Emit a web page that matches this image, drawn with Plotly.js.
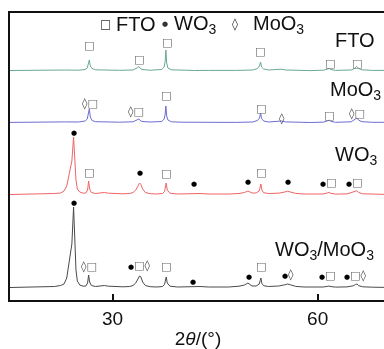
<!DOCTYPE html>
<html>
<head>
<meta charset="utf-8">
<script src="https://cdn.plot.ly/plotly-3.0.1.min.js"></script>
<style>
html,body{margin:0;padding:0;background:#fff;overflow:hidden;}
#chart{width:386px;height:349px;will-change:transform;}
</style>
</head>
<body>
<div id="chart"></div>
<script>
// 2theta key points and intensities (a.u., relative to each pattern's own baseline)
const ftoX = [15,17,19,21,23,25,26.0,26.3,26.45,26.6,26.75,27.0,27.5,29,31,33.0,33.5,33.7,33.85,34.0,34.3,35.5,37.2,37.55,37.7,37.8,37.92,38.1,38.6,40,42,44,46,48,50.5,51.2,51.5,51.65,51.8,52.1,52.8,54.0,54.7,55.3,57,59,60.9,61.5,61.7,61.95,62.6,64.9,65.4,65.6,65.75,66.0,66.5,68,70];
const ftoY = [0.5,0.8,0.6,0.9,1.0,0.8,1.5,3,6,11,5,2.5,1.2,0.8,0.7,1,2.5,3.5,4.5,3,1.5,0.8,1.5,4,10,21,8,3,1.2,0.7,0.5,0.6,0.4,0.6,1,2.5,5,9,4,2,1,1.2,1.8,1,0.5,0.4,0.8,1.8,2.5,1.5,0.6,1,2.5,4,4.5,2.5,1.2,0.6,0.6];

const mooX = ftoX;
const mooY = [0.6,0.9,0.7,1.0,1.1,1.0,2,4,8,14,6,2.5,1.3,1.0,0.8,1.2,2.5,3.5,4,2.8,1.5,1.0,1.5,4,9,17,7,3,1.2,0.8,0.6,0.7,0.5,0.6,1,2.5,5,10,4.5,2,1,1.2,2,1.1,0.6,0.5,0.9,2,2.8,1.6,0.7,1.2,3,4.5,5,2.8,1.3,0.7,0.7];

const woX = [15,17,19,20.5,21.5,22.4,22.9,23.3,23.6,23.85,24.05,24.3,24.5,24.65,24.85,25.2,25.7,26.1,26.35,26.5,26.65,26.9,27.5,28.3,28.8,29.4,30.5,31.5,32.5,33.0,33.4,33.7,33.95,34.15,34.4,34.8,35.5,36.5,37.3,37.6,37.75,37.85,38.0,38.4,39.5,40.8,41.8,42.8,44,45.5,47,48.5,49.3,49.8,50.0,50.4,51.0,51.45,51.6,51.7,51.85,52.1,52.8,54.3,55.2,55.6,56.0,56.8,58,59.5,60.8,61.4,61.65,61.95,62.6,64.3,65.2,65.55,65.75,66.0,66.6,68,70];
const woY = [0.5,0.7,0.8,1.2,1.5,2,4,9,20,27,34,58,36,15,6,3,1.8,2,5,14,6,2.5,1.5,2,2.5,1.8,1.2,1.2,1.5,2.5,5,8.5,12,10.5,6,2.5,1.3,1,1.5,3.5,8,12,5,1.8,1,1.3,2,1.5,1,0.9,1,1.5,2.5,4,3.5,2,2,4,8,11,5,2.3,1.5,1.8,3,3.8,3,1.6,1,0.8,1,2,2.6,1.6,0.9,1.1,2.5,3.8,4.2,2.5,1.2,0.8,0.6];

const mixX = woX;
const mixY = [0.5,0.7,0.8,1.2,1.5,2.5,4,10,25,38,44,81,45,18,7,3,1.8,2,5,13,6,2.5,1.5,2,2.5,1.8,1.2,1.2,1.5,2.5,5,9,12,11,6,2.5,1.3,1,1.5,3.5,7.5,11,5,1.8,1,1.3,2,1.5,1,0.9,1,1.8,3,5,4,2,2,4,7.5,10,4.5,2.3,1.5,2,3.2,4,3.2,1.6,1,0.8,1,1.6,2,1.4,0.9,1.1,2.2,3.5,4,2.3,1.2,0.8,0.6];

const sampleNames = ["FTO", "MoO<sub>3</sub>", "WO<sub>3</sub>", "WO<sub>3</sub>/MoO<sub>3</sub>"];
const xTicks = [30, 60];

// phase marks: [2theta, symbols, height above baseline]
const ftoMarks = [[26.55,"□",26],[33.87,"□",12],[37.9,"□",29],[51.5,"□",20],[61.8,"□",8],[65.7,"□",8]];
const mooMarks = [[26.63,"◊□",20],[33.47,"◊□",12],[37.76,"□",28],[51.66,"□",15],[54.73,"◊",5],[61.6,"□",8],[65.7,"◊□",10]];
const woMarks = [[24.29,"•",62],[26.49,"□",23],[33.95,"•",22],[37.76,"□",22],[41.85,"•",11],[49.76,"•",13],[51.66,"□",23],[55.6,"•",13],[61.6,"•□",13],[65.4,"•□",13]];
const mixMarks = [[24.29,"•",85],[26.49,"◊□",22],[33.95,"•□◊",23],[37.76,"□",22],[41.7,"•",6],[49.9,"•",11],[51.66,"□",22],[55.66,"•◊",14],[61.4,"•□",13],[65.6,"•□◊",13]];

// styling / placement
const offsets = [229, 177, 105, 12];
const colors = ["#6aa894", "#6d6dd2", "#f06464", "#4a4a4a"];
const seriesX = [ftoX, mooX, woX, mixX];
const seriesY = [ftoY, mooY, woY, mixY];
const marks = [ftoMarks, mooMarks, woMarks, mixMarks];
const glyphHtml = {
  "□": '<span style="color:#666">□</span>',
  "•": '<span style="font-size:7px;color:#000">●</span>',
  "◊": '<span style="color:#444">◊</span>'
};
function markHtml(s){ return s.split("").map(c => glyphHtml[c] || c).join(""); }

const FONT = "Liberation Sans, Arial, Helvetica, sans-serif";
const SYMFONT = "DejaVu Sans, sans-serif";

const traces = seriesX.map((xs, i) => ({
  x: xs,
  y: seriesY[i].map(v => v + offsets[i]),
  type: "scatter",
  mode: "lines",
  line: {color: colors[i], width: 1},
  hoverinfo: "skip",
  showlegend: false
}));

const annotations = [];
marks.forEach((list, i) => {
  list.forEach(m => {
    annotations.push({
      x: m[0], y: offsets[i] + m[2], xref: "x", yref: "y",
      text: markHtml(m[1]), showarrow: false, xanchor: "center", yanchor: "middle",
      font: {family: SYMFONT, size: 11, color: "#444"}
    });
  });
});

function px2paperX(px){ return (px - 10) / 376; }
function px2paperY(py){ return (300 - py) / 287; }
// right-side sample labels
const labelPos = [[333, 40], [328, 90], [333, 155], [273, 250]];
sampleNames.forEach((n, i) => {
  annotations.push({
    x: px2paperX(labelPos[i][0]), y: px2paperY(labelPos[i][1]), xref: "paper", yref: "paper",
    text: n, showarrow: false, xanchor: "left", yanchor: "middle",
    font: {family: FONT, size: 20, color: "#111"}
  });
});
// top key
const keyItems = [
  ["□", 105, SYMFONT, 12, "center"],
  ["FTO", 114, FONT, 20, "left"],
  ["●", 165, SYMFONT, 7, "center"],
  ["WO<sub>3</sub>", 172, FONT, 20, "left"],
  ["◊", 235, SYMFONT, 12, "center"],
  ["MoO<sub>3</sub>", 251, FONT, 20, "left"]
];
keyItems.forEach(k => {
  annotations.push({
    x: px2paperX(k[1]), y: px2paperY(24), xref: "paper", yref: "paper",
    text: k[0], showarrow: false, xanchor: k[4], yanchor: "middle",
    font: {family: k[2], size: k[3], color: k[4] === "center" ? "#333" : "#111"}
  });
});

const layout = {
  width: 386, height: 349,
  margin: {l: 10, r: 0, t: 13, b: 49},
  paper_bgcolor: "#fff", plot_bgcolor: "#fff",
  xaxis: {
    range: [15, 70], showgrid: false, zeroline: false,
    showline: true, linecolor: "#111", linewidth: 2, mirror: true,
    ticks: "inside", ticklen: 6, tickwidth: 2, tickcolor: "#111",
    tickvals: xTicks, ticktext: xTicks.map(String),
    tickfont: {family: FONT, size: 19, color: "#111"},
    title: {text: "2<i>θ</i>/(°)", font: {family: FONT, size: 19, color: "#111"}, standoff: 4}
  },
  yaxis: {
    range: [0, 287], showgrid: false, zeroline: false,
    showline: true, linecolor: "#111", linewidth: 2,
    showticklabels: false, ticks: ""
  },
  annotations: annotations,
  showlegend: false
};

Plotly.newPlot("chart", traces, layout, {displayModeBar: false, staticPlot: true});
</script>
</body>
</html>
